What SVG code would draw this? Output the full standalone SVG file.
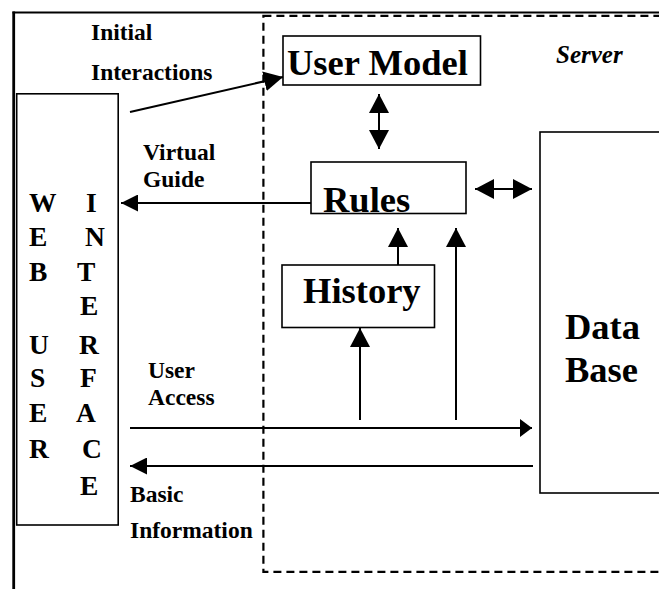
<svg xmlns="http://www.w3.org/2000/svg" width="659" height="589" viewBox="0 0 659 589">
  <style>
    .box { fill: #fff; stroke: #000; stroke-width: 1.6; }
    .wire { fill: none; stroke: #000; stroke-width: 2; }
    .lbl { font-family: "Liberation Serif", "Times New Roman", serif; font-weight: bold; font-size: 23.5px; fill: #000; }
    .big { font-family: "Liberation Serif", "Times New Roman", serif; font-weight: bold; font-size: 36.5px; fill: #000; }
    .wui { font-family: "Liberation Serif", "Times New Roman", serif; font-weight: bold; font-size: 27.5px; fill: #000; }
    .srv { font-family: "Liberation Serif", "Times New Roman", serif; font-weight: bold; font-style: italic; font-size: 25px; fill: #000; }
  </style>
  <defs>
    <marker id="head" viewBox="0 0 19 20" refX="19" refY="10" markerWidth="19" markerHeight="20" markerUnits="userSpaceOnUse" orient="auto-start-reverse">
      <path d="M0,0 L19,10 L0,20 Z" fill="#000"/>
    </marker>
    <marker id="headMid" viewBox="0 0 17 17" refX="17" refY="8.5" markerWidth="17" markerHeight="17" markerUnits="userSpaceOnUse" orient="auto-start-reverse">
      <path d="M0,0 L17,8.5 L0,17 Z" fill="#000"/>
    </marker>
    <marker id="headShort" viewBox="0 0 12 18" refX="12" refY="9" markerWidth="12" markerHeight="18" markerUnits="userSpaceOnUse" orient="auto-start-reverse">
      <path d="M0,0 L12,9 L0,18 Z" fill="#000"/>
    </marker>
  </defs>

  <rect width="659" height="589" fill="#fff"/>

  <!-- outer frame: solid top and left edges -->
  <g id="frame">
    <line x1="12.5" y1="12.5" x2="659" y2="12.5" stroke="#000" stroke-width="2"/>
    <line x1="13.7" y1="11.5" x2="13.7" y2="589" stroke="#000" stroke-width="2.8"/>
  </g>

  <!-- dashed server boundary -->
  <g id="server">
    <rect x="263.4" y="15.8" width="420" height="556" fill="none" stroke="#000" stroke-width="2.2" stroke-dasharray="8 5"/>
    <text class="srv" x="556" y="63">Server</text>
  </g>

  <g id="web-user-interface">
    <rect class="box" x="16.7" y="93.8" width="101.5" height="431.2"/>
    <text class="wui" x="29" y="212">W</text>
    <text class="wui" x="29" y="246">E</text>
    <text class="wui" x="29" y="281">B</text>
    <text class="wui" x="29" y="354">U</text>
    <text class="wui" x="30" y="387">S</text>
    <text class="wui" x="29" y="422">E</text>
    <text class="wui" x="29" y="458">R</text>
    <text class="wui" x="86" y="212">I</text>
    <text class="wui" x="85" y="246">N</text>
    <text class="wui" x="77" y="281">T</text>
    <text class="wui" x="80" y="315">E</text>
    <text class="wui" x="79" y="354">R</text>
    <text class="wui" x="80" y="387">F</text>
    <text class="wui" x="76" y="422">A</text>
    <text class="wui" x="82" y="458">C</text>
    <text class="wui" x="80" y="495">E</text>
  </g>

  <g id="user-model">
    <rect class="box" x="283" y="36" width="197.5" height="49"/>
    <text class="big" x="287" y="75">User Model</text>
  </g>

  <g id="rules">
    <rect class="box" x="311" y="162" width="155" height="51.5"/>
    <text class="big" x="323" y="212">Rules</text>
  </g>

  <g id="history">
    <rect class="box" x="282" y="265" width="152.5" height="62.5"/>
    <text class="big" x="303" y="303">History</text>
  </g>

  <g id="data-base">
    <rect class="box" x="540" y="132" width="140" height="361"/>
    <text class="big" x="565" y="339">Data</text>
    <text class="big" x="565" y="382">Base</text>
  </g>

  <!-- connectors -->
  <g id="connectors" class="wire">
    <line x1="130" y1="112" x2="283" y2="77" marker-end="url(#head)"/>
    <line x1="379" y1="94" x2="379" y2="149" marker-start="url(#head)" marker-end="url(#head)"/>
    <line x1="475" y1="189" x2="532" y2="189" marker-start="url(#head)" marker-end="url(#head)"/>
    <line x1="311" y1="203" x2="121" y2="203" marker-end="url(#headMid)"/>
    <line x1="398" y1="265" x2="398" y2="228" marker-end="url(#head)"/>
    <line x1="456" y1="420" x2="456" y2="228" marker-end="url(#head)"/>
    <line x1="360" y1="420" x2="360" y2="328" marker-end="url(#head)"/>
    <line x1="130" y1="428" x2="532" y2="428" marker-end="url(#headShort)"/>
    <line x1="533" y1="466" x2="130" y2="466" marker-end="url(#headMid)"/>
  </g>

  <!-- connector labels -->
  <g id="labels">
    <text class="lbl" x="91" y="40">Initial</text>
    <text class="lbl" x="91" y="80">Interactions</text>
    <text class="lbl" x="143" y="160">Virtual</text>
    <text class="lbl" x="143" y="187">Guide</text>
    <text class="lbl" x="148" y="378">User</text>
    <text class="lbl" x="148" y="405">Access</text>
    <text class="lbl" x="130" y="502">Basic</text>
    <text class="lbl" x="130" y="538">Information</text>
  </g>
</svg>
